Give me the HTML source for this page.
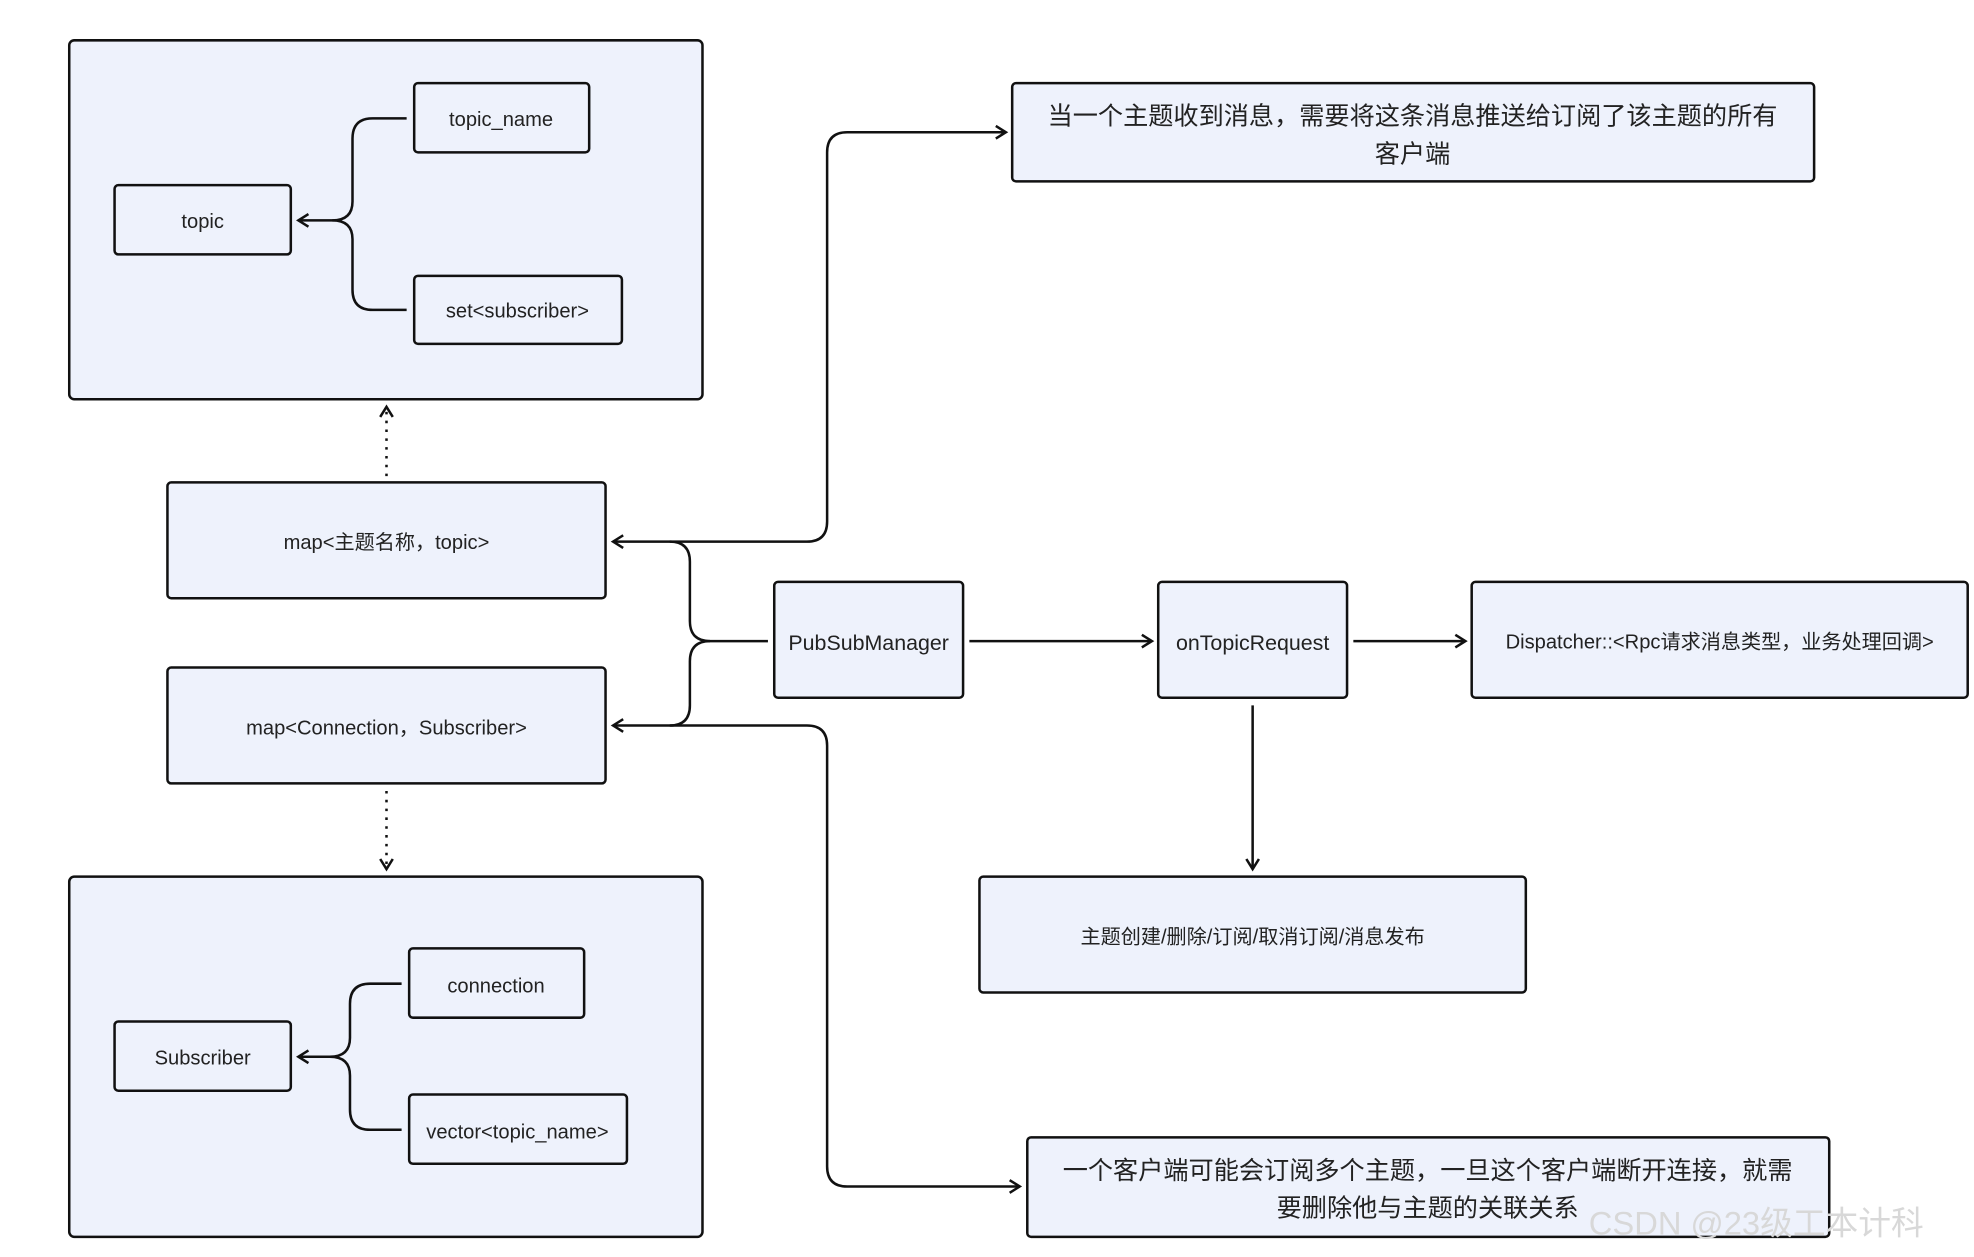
<!DOCTYPE html>
<html><head><meta charset="utf-8"><style>
html,body{margin:0;padding:0;background:#fff;}
svg{display:block;}
text{font-family:"Liberation Sans","Noto Sans CJK SC",sans-serif;fill:#222;}
</style></head><body>
<svg width="1974" height="1257" viewBox="0 0 1568 998" preserveAspectRatio="none" xmlns="http://www.w3.org/2000/svg">
<defs>
<marker id="a" viewBox="0 0 12 12" refX="10" refY="6" markerWidth="12" markerHeight="12" markerUnits="userSpaceOnUse" orient="auto"><path d="M2,1 L10,6 L2,11" fill="none" stroke="#111" stroke-width="2"/></marker>
</defs>
<g fill="#eef2fc" stroke="#111" stroke-width="2">
<rect x="55" y="32" width="503" height="285" rx="4"/>
<rect x="91" y="147" width="140" height="55" rx="3"/>
<rect x="329" y="66" width="139" height="55" rx="3"/>
<rect x="329" y="219" width="165" height="54" rx="3"/>
<rect x="133" y="383" width="348" height="92" rx="3"/>
<rect x="133" y="530" width="348" height="92" rx="3"/>
<rect x="55" y="696" width="503" height="286" rx="4"/>
<rect x="91" y="811" width="140" height="55" rx="3"/>
<rect x="325" y="753" width="139" height="55" rx="3"/>
<rect x="325" y="869" width="173" height="55" rx="3"/>
<rect x="615" y="462" width="150" height="92" rx="3"/>
<rect x="920" y="462" width="150" height="92" rx="3"/>
<rect x="1169" y="462" width="394" height="92" rx="3"/>
<rect x="804" y="66" width="637" height="78" rx="3"/>
<rect x="778" y="696" width="434" height="92" rx="3"/>
<rect x="816" y="903" width="637" height="79" rx="3"/>
</g>
<g fill="none" stroke="#111" stroke-width="2">
<path d="M323,94 H296 Q280,94 280,110 V160 Q280,175 264,175 H237" marker-end="url(#a)"/>
<path d="M323,246 H296 Q280,246 280,230 V190 Q280,175 264,175"/>
<path d="M319,781 H294 Q278,781 278,797 V824 Q278,839 262,839 H237" marker-end="url(#a)"/>
<path d="M319,897 H294 Q278,897 278,881 V854 Q278,839 262,839"/>
<path d="M307,378 V323" stroke-dasharray="2,5" marker-end="url(#a)"/>
<path d="M307,628 V690" stroke-dasharray="2,5" marker-end="url(#a)"/>
<path d="M610,509 H564 Q548,509 548,493 V446 Q548,430 532,430 H487" marker-end="url(#a)"/>
<path d="M564,509 Q548,509 548,525 V560 Q548,576 532,576 H487" marker-end="url(#a)"/>
<path d="M532,430 H641 Q657,430 657,414 V121 Q657,105 673,105 H799" marker-end="url(#a)"/>
<path d="M532,576 H641 Q657,576 657,592 V926 Q657,942 673,942 H810" marker-end="url(#a)"/>
<path d="M770,509 H915" marker-end="url(#a)"/>
<path d="M1075,509 H1164" marker-end="url(#a)"/>
<path d="M995,560 V690" marker-end="url(#a)"/>
</g>
<g font-size="16" text-anchor="middle">
<text x="161" y="181">topic</text>
<text x="398" y="100">topic_name</text>
<text x="411" y="252">set&lt;subscriber&gt;</text>
<text x="307" y="436">map&lt;主题名称，topic&gt;</text>
<text x="307" y="583">map&lt;Connection，Subscriber&gt;</text>
<text x="161" y="845">Subscriber</text>
<text x="394" y="788">connection</text>
<text x="411" y="904">vector&lt;topic_name&gt;</text>
<text x="690" y="516" font-size="17">PubSubManager</text>
<text x="995" y="516" font-size="17">onTopicRequest</text>
<text x="1366" y="515">Dispatcher::&lt;Rpc请求消息类型，业务处理回调&gt;</text>
<text x="995" y="749">主题创建/删除/订阅/取消订阅/消息发布</text>
</g>
<g font-size="20" text-anchor="middle">
<text x="1122" y="99">当一个主题收到消息，需要将这条消息推送给订阅了该主题的所有</text>
<text x="1122" y="129">客户端</text>
<text x="1134" y="936">一个客户端可能会订阅多个主题，一旦这个客户端断开连接，就需</text>
<text x="1134" y="966">要删除他与主题的关联关系</text>
</g>
<text x="1262" y="980" font-size="26" style="fill:#d8d8d8">CSDN @23级工本计科</text>
</svg>
</body></html>
